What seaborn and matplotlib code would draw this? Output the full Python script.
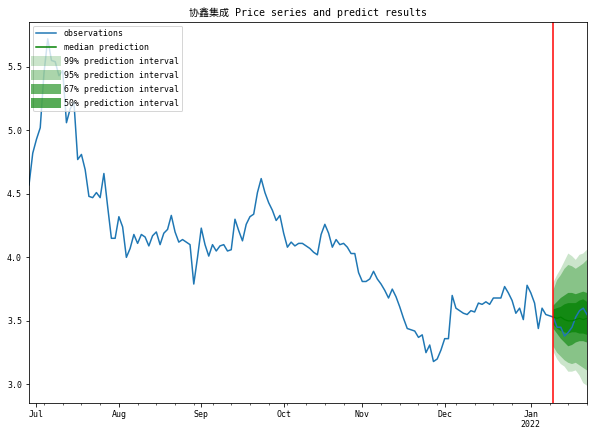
import matplotlib
matplotlib.use("Agg")
import matplotlib.pyplot as plt
import seaborn as sns
import pandas as pd
import numpy as np
from matplotlib.lines import Line2D

# business-day index of the series
dates = pd.bdate_range("2021-06-29", "2022-01-24")

observations = [
    4.57, 4.82, 4.93, 5.02, 5.45, 5.72, 5.55, 5.54, 5.43, 5.47,
    5.06, 5.17, 5.22, 4.77, 4.81, 4.69, 4.48, 4.47, 4.51, 4.47,
    4.66, 4.40, 4.15, 4.15, 4.32, 4.24, 4.00, 4.07, 4.18, 4.11,
    4.18, 4.16, 4.09, 4.17, 4.20, 4.10, 4.19, 4.22, 4.33, 4.20,
    4.12, 4.14, 4.12, 4.10, 3.79, 4.00, 4.23, 4.10, 4.01, 4.10,
    4.05, 4.09, 4.10, 4.05, 4.06, 4.30, 4.21, 4.13, 4.26, 4.32,
    4.34, 4.51, 4.62, 4.51, 4.43, 4.37, 4.29, 4.33, 4.19, 4.08,
    4.12, 4.09, 4.11, 4.11, 4.09, 4.07, 4.04, 4.02, 4.18, 4.26,
    4.19, 4.08, 4.14, 4.10, 4.11, 4.08, 4.03, 4.03, 3.88, 3.81,
    3.81, 3.83, 3.89, 3.83, 3.79, 3.74, 3.68, 3.75, 3.69, 3.61,
    3.52, 3.44, 3.43, 3.42, 3.37, 3.39, 3.25, 3.31, 3.18, 3.20,
    3.27, 3.36, 3.36, 3.70, 3.60, 3.58, 3.56, 3.55, 3.58, 3.57,
    3.64, 3.63, 3.65, 3.63, 3.68, 3.68, 3.68, 3.77, 3.72, 3.66,
    3.56, 3.60, 3.51, 3.78, 3.72, 3.64, 3.44, 3.60, 3.55, 3.54,
    3.53, 3.45, 3.45, 3.38, 3.41, 3.45, 3.53, 3.58, 3.60, 3.55,
]

forecast_start = "2022-01-11"
median_pred = [3.53, 3.52, 3.53, 3.51, 3.50, 3.50, 3.51, 3.52, 3.51, 3.52]

# (label, alpha, lower, upper)
intervals = [
    ("99%", 0.204,
     [3.26, 3.20, 3.16, 3.14, 3.10, 3.10, 3.11, 3.07, 3.01, 2.99],
     [3.80, 3.86, 3.91, 3.97, 4.03, 4.01, 3.98, 4.02, 4.03, 4.06]),
    ("95%", 0.331,
     [3.30, 3.25, 3.22, 3.19, 3.17, 3.16, 3.17, 3.15, 3.13, 3.11],
     [3.74, 3.82, 3.86, 3.91, 3.94, 3.93, 3.91, 3.93, 3.95, 3.98]),
    ("67%", 0.582,
     [3.44, 3.40, 3.36, 3.33, 3.30, 3.31, 3.33, 3.34, 3.34, 3.33],
     [3.62, 3.65, 3.68, 3.70, 3.72, 3.72, 3.71, 3.72, 3.73, 3.72]),
    ("50%", 0.660,
     [3.47, 3.44, 3.42, 3.41, 3.40, 3.41, 3.41, 3.40, 3.40, 3.39],
     [3.59, 3.60, 3.61, 3.63, 3.64, 3.64, 3.64, 3.66, 3.67, 3.65]),
]

plt.rcParams["font.family"] = ["DejaVu Sans Mono", "Noto Sans CJK SC"]
plt.rcParams["font.size"] = 8.3

pos = np.arange(len(dates))
start = dates.get_loc(pd.Timestamp(forecast_start))
fpos = pos[start:start + len(median_pred)]

obs_df = pd.DataFrame({"x": pos, "price": observations})
pred_df = pd.DataFrame({"x": fpos, "median": median_pred})

fig, ax = plt.subplots(figsize=(594 / 72, 435 / 72), dpi=72)
fig.subplots_adjust(left=29 / 594, right=587 / 594, top=1 - 21.5 / 435, bottom=1 - 403 / 435)

sns.lineplot(data=obs_df, x="x", y="price", color="C0", linewidth=1.5, ax=ax)
for label, alpha, lo, hi in intervals:
    ax.fill_between(fpos, lo, hi, facecolor="g", alpha=alpha, interpolate=True, linewidth=0)
sns.lineplot(data=pred_df, x="x", y="median", color="g", linewidth=1.2, ax=ax)
ax.axvline(start, color="r", linewidth=1.5)

# month ticks / weekly minor ticks like pandas' business-day axis
prev = dates - pd.offsets.BDay(1)
month_idx = pos[dates.month != prev.month]
week_idx = pos[dates.dayofweek == 0]
month_lbl = [d.strftime("%b\n%Y") if d.month == 1 else d.strftime("%b") for d in dates[month_idx]]
ax.set_xticks(month_idx)
ax.set_xticklabels(month_lbl)
ax.set_xticks(week_idx, minor=True)
ax.set_xlim(pos[0], pos[-1])
ax.set_xlabel("")
ax.set_ylabel("")

ax.set_title("协鑫集成 Price series and predict results", fontsize=10)

handles = [Line2D([], [], color="C0", lw=1.5), Line2D([], [], color="g", lw=1.5)]
labels = ["observations", "median prediction"]
for label, alpha, lo, hi in intervals:
    handles.append(Line2D([], [], color="g", alpha=alpha, lw=10))
    labels.append(label + " prediction interval")
ax.legend(handles, labels, loc="upper left", handlelength=2.4, labelspacing=0.6,
          handletextpad=0.9, borderaxespad=0.5)

plt.savefig("out.png", dpi=72)
